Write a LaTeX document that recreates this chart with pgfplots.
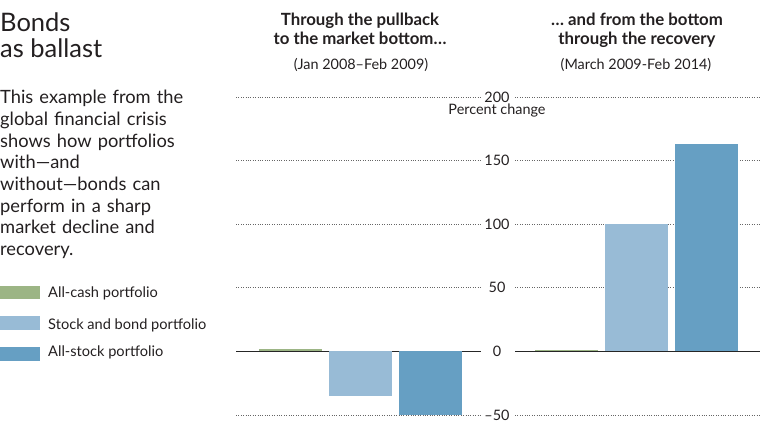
\documentclass[border=0pt]{standalone}
\usepackage{pgfplots}
\pgfplotsset{compat=1.18}
\usepackage{fontspec}
\setmainfont{Lato}
\definecolor{cashgreen}{HTML}{9CB585}
\definecolor{mixblue}{HTML}{98BBD6}
\definecolor{stockblue}{HTML}{669FC3}
\definecolor{txt}{HTML}{231F20}
\pgfplotsset{
  panel/.style={
    scale only axis, width=245bp, height=318bp,
    ymin=-50, ymax=200,
    ytick={-50,0,50,100,150,200},
    xtick=\empty,
    axis line style={draw=none},
    major tick style={draw=none},
    ymajorgrids=true,
    grid style={dotted, line width=0.8pt, gray!80!black},
    extra y ticks={0},
    extra y tick labels={},
    extra y tick style={grid style={solid, line width=0.8pt, black!85}},
    ybar, bar width=0.9, bar shift=0pt,
    every axis plot/.append style={draw=none},
  },
}
\begin{document}
\begin{tikzpicture}[x=1bp,y=1bp]
\useasboundingbox (0,0) rectangle (760,433);
\color{txt}
% left text block
\node[anchor=base west, inner sep=0, font=\fontsize{25.5bp}{28bp}\selectfont] at (0,401) {Bonds};
\node[anchor=base west, inner sep=0, font=\fontsize{25.5bp}{28bp}\selectfont] at (0,375) {as ballast};
\node[anchor=north west, inner sep=0, align=left, text width=220bp,
      font=\fontsize{18.3bp}{21.7bp}\selectfont] at (0,343)
  {This example from the\\ global financial crisis\\ shows how portfolios\\ with---and\\ without---bonds can\\ perform in a sharp\\ market decline and\\ recovery.};
% legend
\fill[cashgreen] (0,134) rectangle (40,147);
\fill[mixblue] (0,103) rectangle (40,117);
\fill[stockblue] (0,72) rectangle (40,86);
\node[anchor=base west, inner sep=0, font=\fontsize{14.6bp}{17bp}\selectfont] at (48,135) {All-cash portfolio};
\node[anchor=base west, inner sep=0, font=\fontsize{14.6bp}{17bp}\selectfont] at (48,103) {Stock and bond portfolio};
\node[anchor=base west, inner sep=0, font=\fontsize{14.6bp}{17bp}\selectfont] at (48,76) {All-stock portfolio};
% panel titles
\node[anchor=base, inner sep=0, font=\fontsize{16.8bp}{19bp}\selectfont\bfseries] at (360,407) {Through the pullback};
\node[anchor=base, inner sep=0, font=\fontsize{16.8bp}{19bp}\selectfont\bfseries] at (360,388) {to the market bottom\ldots};
\node[anchor=base, inner sep=0, font=\fontsize{14.4bp}{17bp}\selectfont] at (361,363) {(Jan 2008--Feb 2009)};
\node[anchor=base, inner sep=0, font=\fontsize{16.8bp}{19bp}\selectfont\bfseries] at (637,407) {\ldots\ and from the bottom};
\node[anchor=base, inner sep=0, font=\fontsize{16.8bp}{19bp}\selectfont\bfseries] at (637,388) {through the recovery};
\node[anchor=base, inner sep=0, font=\fontsize{14.4bp}{17bp}\selectfont] at (636,363) {(March 2009-Feb 2014)};
\node[anchor=base, inner sep=0, font=\fontsize{14.4bp}{17bp}\selectfont] at (497,318) {Percent change};

\begin{axis}[panel, at={(236bp,18bp)}, anchor=south west,
  xmin=-0.78, xmax=2.72, yticklabels={}]
\addplot[fill=cashgreen] coordinates {(0,1.5)};
\addplot[fill=mixblue] coordinates {(1,-35.4)};
\addplot[fill=stockblue] coordinates {(2,-50.4)};
\end{axis}

\begin{axis}[panel, at={(515bp,18bp)}, anchor=south west,
  xmin=-0.73, xmax=2.77,
  yticklabels={\textendash50,0,50,100,150,200},
  yticklabel style={anchor=center, xshift=-18bp, font=\fontsize{14.4bp}{17bp}\selectfont}]
\addplot[fill=cashgreen] coordinates {(0,1)};
\addplot[fill=mixblue] coordinates {(1,100)};
\addplot[fill=stockblue] coordinates {(2,163)};
\end{axis}
\end{tikzpicture}
\end{document}
